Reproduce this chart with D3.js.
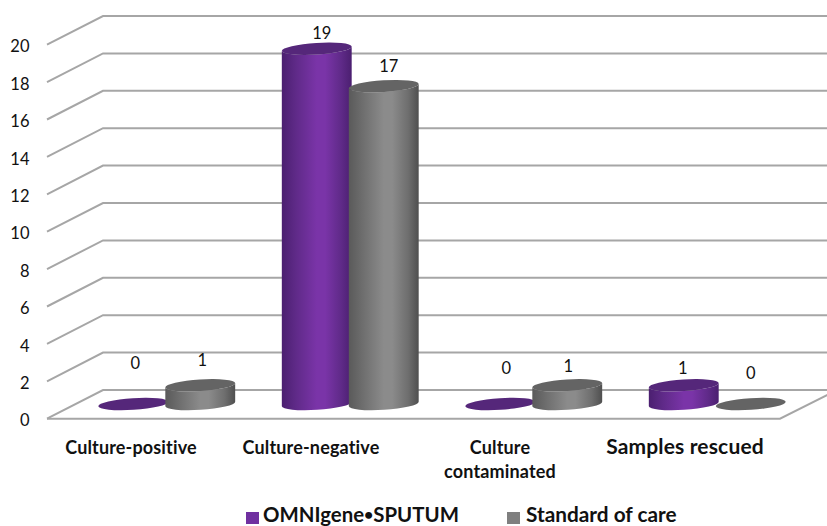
<!DOCTYPE html>
<html>
<head>
<meta charset="utf-8">
<style>
  html, body { margin: 0; padding: 0; background: #fff; }
  svg { display: block; }
  text { font-family: Lato, "Open Sans", sans-serif; fill: #111; }
</style>
<script src="https://cdn.jsdelivr.net/npm/d3@7/dist/d3.min.js"></script>
</head>
<body>
<svg id="chart" width="827" height="526"></svg>
<script>
// Outcome counts per sample group
const categories = ["Culture-positive", "Culture-negative", "Culture contaminated", "Samples rescued"];
const seriesNames = ["OMNIgene\u2022SPUTUM", "Standard of care"];
const omnigeneValues = [0, 19, 0, 1];
const standardValues = [1, 17, 1, 0];
const yTicks = [0, 2, 4, 6, 8, 10, 12, 14, 16, 18, 20];

const svg = d3.select("#chart");
const W = 827;

// Pseudo-3D box: front floor edge, and the depth shift to the back wall
const frontLeft = 47, frontRight = 780, depthX = 56, depthY = 28.7;
const y = d3.scaleLinear().domain([0, 20]).range([418.7, 44.7]);
const x0 = d3.scaleBand().domain(d3.range(4)).range([75, 809]);
const seriesOffset = d3.scaleBand().domain([0, 1]).range([-67, 67]);

const rx = 35, ry = 5.8, tilt = -3.6, floorShift = 14.7;

// Cylinder shading
const defs = svg.append("defs");
const ramps = [
  { id: "shade0", stops: ["#4b1f70", "#5f2a88", "#7a34a8", "#7a34a8", "#5f2a88", "#4b1f70"], top: "#55277a" },
  { id: "shade1", stops: ["#5a5a5a", "#6e6e6e", "#8b8b8b", "#8b8b8b", "#6e6e6e", "#4f4f4f"], top: "#646464" }
];
ramps.forEach(r => {
  const g = defs.append("linearGradient").attr("id", r.id);
  [0, 0.2, 0.5, 0.62, 0.85, 1].forEach((o, i) =>
    g.append("stop").attr("offset", o).attr("stop-color", r.stops[i]));
});

// Walls and floor grid
const grid = svg.append("g").attr("fill", "none").attr("stroke", "#a6a6a6").attr("stroke-width", 2);
const line = d3.line();
yTicks.forEach(t => {
  grid.append("path").attr("d", line([
    [frontLeft, y(t)],
    [frontLeft + depthX, y(t) - depthY],
    [W + 1, y(t) - depthY]
  ]));
});
grid.append("path").attr("d", line([
  [frontLeft, y(0)], [frontRight, y(0)], [W + 1, y(0) - 24]
]));

// Value axis labels
const axis = d3.axisLeft(y).tickValues(yTicks).tickSize(0).tickPadding(0).tickFormat(d3.format("d"));
const axisG = svg.append("g").attr("transform", "translate(29.5,2)").call(axis);
axisG.select(".domain").remove();
axisG.selectAll("text").attr("font-size", 16.5).attr("font-family", "Lato").attr("fill", "#111");

// Bars: zero-height discs go underneath, taller cylinders overlap from left to right
const bars = [];
categories.forEach((c, i) => {
  bars.push({ cat: i, s: 0, v: omnigeneValues[i] });
  bars.push({ cat: i, s: 1, v: standardValues[i] });
});
bars.sort((a, b) => (a.v === 0 ? 0 : 1) - (b.v === 0 ? 0 : 1));

const toRad = Math.PI / 180;
function barCentre(d) {
  return x0(d.cat) + x0.bandwidth() / 2 + seriesOffset(d.s) + seriesOffset.bandwidth() / 2;
}
function bodyPath(cx, yTop, yBot) {
  const dy = rx * Math.sin(-tilt * toRad);
  const dx = rx * Math.cos(tilt * toRad);
  return `M${cx - dx},${yTop + dy}` +
    `L${cx - dx},${yBot + dy}` +
    `A${rx},${ry} ${tilt} 0 0 ${cx + dx},${yBot - dy}` +
    `L${cx + dx},${yTop - dy}` +
    `A${rx},${ry} ${tilt} 0 1 ${cx - dx},${yTop + dy}Z`;
}

const barLayer = svg.append("g");
bars.forEach(d => {
  const cx = barCentre(d);
  const yBot = y(0) - floorShift;
  const yTop = y(d.v) - floorShift;
  const g = barLayer.append("g");
  if (d.v > 0) {
    g.append("path").attr("d", bodyPath(cx, yTop, yBot)).attr("fill", `url(#shade${d.s})`);
  }
  g.append("ellipse")
    .attr("rx", rx).attr("ry", ry)
    .attr("transform", `translate(${cx},${yTop}) rotate(${tilt})`)
    .attr("fill", ramps[d.s].top);
});

// Value labels, hand-placed above each bar
const labelNudge = [[2, -35], [2, -19], [5, -10], [5, -14], [6, -30], [1, -13], [-1, -11], [0, -25]];
bars.slice().sort((a, b) => a.cat - b.cat || a.s - b.s).forEach((d, i) => {
  svg.append("text")
    .attr("x", barCentre(d) + labelNudge[i][0])
    .attr("y", y(d.v) - floorShift + labelNudge[i][1])
    .attr("text-anchor", "middle")
    .attr("font-size", 16.5)
    .text(d.v);
});

// Category labels
const catLabelX = [131, 311, 500, 685];
const catLines = [["Culture-positive"], ["Culture-negative"], ["Culture", "contaminated"], ["Samples rescued"]];
const catSize = [18, 18, 18, 21];
catLines.forEach((ls, i) => {
  ls.forEach((l, j) => {
    svg.append("text")
      .attr("x", catLabelX[i]).attr("y", 454 + j * 24)
      .attr("text-anchor", "middle")
      .attr("font-weight", 700)
      .attr("letter-spacing", 0.15)
      .attr("font-size", catSize[i])
      .text(l);
  });
});

// Legend; the bullet in the first name is set smaller than the surrounding letters
const legendX = [246, 507];
const legendSize = [20.4, 20.8];
seriesNames.forEach((n, i) => {
  svg.append("rect").attr("x", legendX[i]).attr("y", 512).attr("width", 13).attr("height", 12)
    .attr("fill", i === 0 ? "#7030a0" : "#7f7f7f");
  const label = svg.append("text").attr("x", legendX[i] + (i === 0 ? 17 : 19)).attr("y", 521.5)
    .attr("font-weight", 700).attr("font-size", legendSize[i]);
  n.split(/(\u2022)/).forEach(part => {
    const span = label.append("tspan").text(part);
    if (part === "\u2022") span.attr("font-size", 16).attr("dy", -1.5);
    else if (label.selectAll("tspan").size() > 1) span.attr("dy", 1.5);
  });
});
</script>
</body>
</html>
